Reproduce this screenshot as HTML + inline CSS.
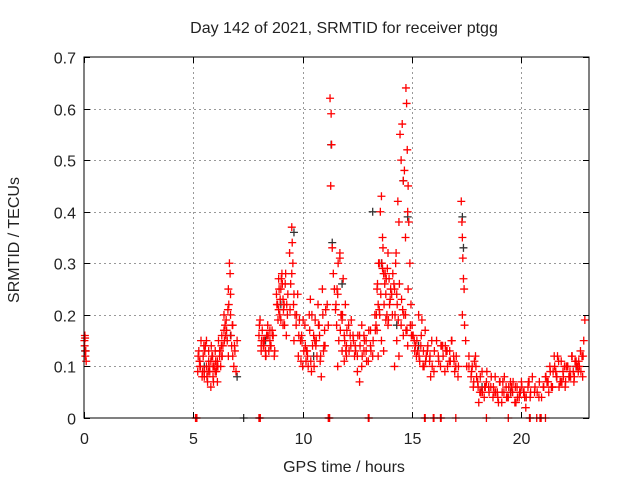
<!DOCTYPE html>
<html><head><meta charset="utf-8"><style>
body{margin:0;background:#fff;width:640px;height:480px;overflow:hidden}
svg text{font-family:"Liberation Sans",sans-serif;font-size:16px;fill:#222}
</style></head><body>
<svg width="640" height="480">
<g id="grid"></g>
<g id="marks"></g>
<rect x="84" y="57" width="505" height="361" fill="none" stroke="#000" stroke-width="1"/>
<g id="ticks"></g>
<text x="344" y="33" text-anchor="middle">Day 142 of 2021, SRMTID for receiver ptgg</text>
<text x="344" y="472" text-anchor="middle">GPS time / hours</text>
<text transform="translate(19,240) rotate(-90)" text-anchor="middle">SRMTID / TECUs</text>
</svg>
<script>
const xTicks=[0,5,10,15,20];
const yTicks=[0,0.1,0.2,0.3,0.4,0.5,0.6,0.7];
const yLabels=["0","0.1","0.2","0.3","0.4","0.5","0.6","0.7"];
const redT=[0.02,0.03,0.05,0.06,0.08,0.1,0.04,
5.2,5.25,5.3,5.35,5.4,5.45,5.5,5.55,5.6,5.65,5.7,5.75,5.8,5.85,5.9,5.95,6.0,6.05,6.1,6.15,6.2,6.25,6.3,6.35,6.4,6.45,5.3,5.5,5.7,5.9,6.1,6.3,5.6,5.8,6.0,6.2,6.4,
6.5,6.55,6.6,6.62,6.65,6.68,6.7,6.72,6.75,6.8,6.85,6.9,6.95,7.0,6.6,6.8,
8.0,8.05,8.1,8.15,8.2,8.25,8.3,8.35,8.4,8.45,8.5,8.55,8.6,8.65,8.7,8.1,8.3,8.5,8.2,8.4,
8.8,8.85,8.9,8.95,9.0,9.05,9.1,9.15,9.2,9.25,9.3,8.9,9.1,9.0,
9.4,9.45,9.5,9.52,9.55,9.58,9.6,9.65,9.7,9.5,9.6,
9.8,9.9,10.0,10.1,10.2,10.3,10.4,10.5,10.6,10.7,10.8,10.9,11.0,9.85,10.05,10.25,10.45,10.65,10.85,11.05,9.95,10.15,10.35,10.55,10.75,10.95,
11.25,11.3,11.32,11.28,11.35,11.4,11.45,11.5,
11.55,11.6,11.65,11.7,11.75,11.8,11.85,11.9,11.95,12.0,12.1,12.2,12.3,11.6,11.8,12.0,11.7,11.9,
12.4,12.5,12.6,12.7,12.8,12.9,13.0,13.1,13.2,12.5,12.7,12.9,13.1,12.6,12.8,
13.3,13.35,13.4,13.45,13.5,13.55,13.6,13.65,13.7,13.75,13.8,13.85,13.9,13.95,14.0,13.4,13.6,13.8,13.5,13.7,13.9,13.45,13.65,
14.1,14.2,14.25,14.3,14.35,14.4,14.45,14.5,14.55,14.6,14.65,14.7,14.72,14.75,14.78,14.8,14.82,14.85,14.9,14.95,14.3,14.5,14.7,14.4,14.6,14.8,14.2,
15.0,15.1,15.2,15.3,15.4,15.5,15.6,15.7,15.8,15.9,16.0,15.05,15.25,15.45,15.65,15.85,15.15,15.35,15.55,
16.2,16.3,16.4,16.5,16.6,16.7,16.8,16.9,17.0,17.1,16.35,16.55,16.75,16.95,
17.25,17.28,17.3,17.32,17.35,17.38,17.3,17.4,17.45,
17.6,17.7,17.8,17.9,18.0,18.1,18.2,18.3,18.4,18.5,17.75,17.95,18.15,18.35,17.85,18.05,
18.6,18.7,18.8,18.9,19.0,19.1,19.2,19.3,19.4,19.5,19.6,19.7,19.8,19.9,20.0,20.1,20.2,20.3,20.4,20.5,18.75,18.95,19.15,19.35,19.55,19.75,19.95,20.15,20.35,
20.6,20.8,21.0,21.1,21.2,21.3,21.4,21.5,21.6,21.7,21.8,21.9,22.0,22.1,22.2,22.3,22.4,22.5,22.6,22.7,22.8,22.9,21.25,21.45,21.65,21.85,22.05,22.25,22.45,22.65,22.85,22.9];
const redV=[0.15,0.14,0.155,0.12,0.13,0.11,0.16,
0.09,0.13,0.1,0.15,0.08,0.12,0.09,0.14,0.1,0.07,0.11,0.09,0.06,0.12,0.08,0.1,0.13,0.09,0.11,0.15,0.12,0.1,0.16,0.14,0.2,0.18,0.11,0.08,0.13,0.1,0.07,0.12,0.15,0.11,0.09,0.13,0.17,
0.19,0.15,0.25,0.22,0.3,0.28,0.2,0.16,0.14,0.12,0.1,0.13,0.09,0.15,0.12,0.18,
0.16,0.19,0.13,0.17,0.14,0.15,0.12,0.16,0.18,0.13,0.15,0.14,0.17,0.16,0.12,0.14,0.13,0.17,0.15,0.16,
0.24,0.22,0.27,0.2,0.25,0.28,0.18,0.22,0.26,0.16,0.2,0.21,0.23,0.19,
0.32,0.26,0.37,0.34,0.3,0.22,0.24,0.2,0.18,0.28,0.15,
0.12,0.15,0.1,0.18,0.13,0.2,0.09,0.16,0.14,0.22,0.11,0.25,0.17,0.19,0.13,0.1,0.14,0.12,0.08,0.21,0.16,0.11,0.23,0.15,0.18,0.13,
0.62,0.59,0.53,0.45,0.33,0.28,0.25,0.21,
0.18,0.24,0.15,0.32,0.2,0.13,0.27,0.16,0.22,0.12,0.18,0.14,0.16,0.1,0.19,0.14,0.31,0.11,
0.14,0.12,0.16,0.1,0.13,0.15,0.11,0.17,0.12,0.09,0.18,0.13,0.14,0.07,0.16,
0.2,0.18,0.25,0.22,0.3,0.4,0.43,0.35,0.28,0.26,0.24,0.2,0.32,0.27,0.23,0.17,0.15,0.19,0.21,0.13,0.18,0.12,0.29,
0.2,0.25,0.3,0.24,0.42,0.38,0.55,0.5,0.57,0.46,0.48,0.35,0.64,0.61,0.52,0.4,0.45,0.38,0.3,0.22,0.15,0.18,0.2,0.12,0.16,0.14,0.1,
0.18,0.15,0.12,0.2,0.14,0.1,0.17,0.13,0.11,0.15,0.09,0.16,0.13,0.19,0.12,0.08,0.14,0.11,0.1,
0.12,0.1,0.14,0.09,0.13,0.11,0.15,0.12,0.1,0.08,0.14,0.13,0.11,0.09,
0.42,0.38,0.35,0.31,0.27,0.25,0.2,0.18,0.15,
0.1,0.08,0.06,0.12,0.07,0.05,0.09,0.04,0.07,0.06,0.1,0.08,0.05,0.06,0.11,0.03,
0.06,0.04,0.08,0.05,0.07,0.03,0.05,0.06,0.04,0.07,0.05,0.03,0.06,0.04,0.07,0.05,0.02,0.06,0.04,0.08,0.05,0.03,0.07,0.04,0.06,0.03,0.05,0.04,0.07,
0.05,0.04,0.06,0.08,0.07,0.1,0.06,0.12,0.08,0.11,0.07,0.09,0.06,0.1,0.08,0.12,0.07,0.11,0.09,0.13,0.08,0.19,0.05,0.09,0.12,0.07,0.1,0.08,0.11,0.1,0.15];
const dense2T=[5.22,5.32,5.42,5.52,5.62,5.72,5.82,5.92,6.02,6.12,6.22,6.32,6.42,6.52,6.58,5.28,5.48,5.68,5.88,6.08,6.28,6.48,6.7,6.78,6.88,
8.02,8.12,8.22,8.32,8.42,8.52,8.62,8.72,8.82,8.92,9.02,9.12,9.22,9.32,9.42,8.87,8.97,9.07,9.17,9.27,
9.72,9.82,9.92,10.02,10.12,10.22,10.32,10.42,10.52,10.62,10.72,10.82,10.92,11.02,11.12,9.77,9.97,10.17,10.37,10.57,10.77,10.97,11.17,
11.52,11.62,11.72,11.82,11.92,12.02,12.12,12.22,12.32,12.42,12.52,12.62,12.72,12.82,12.92,13.02,13.12,13.22,11.57,11.77,11.97,12.17,12.37,
13.32,13.42,13.52,13.62,13.72,13.82,13.92,14.02,14.12,14.22,14.32,14.42,14.52,14.62,14.72,14.82,14.92,13.37,13.57,13.77,13.97,14.17,14.37,14.57,14.77,14.97,13.47,13.67,13.87,14.07,14.27,
15.02,15.12,15.22,15.32,15.42,15.52,15.62,15.72,15.82,15.92,16.02,16.12,16.22,16.32,16.42,16.52,16.62,16.72,16.82,16.92,17.02,17.12,17.5,17.6,
17.72,17.82,17.92,18.02,18.12,18.22,18.32,18.42,18.52,18.62,18.72,18.82,18.92,19.02,19.12,19.22,19.32,19.42,19.52,19.62,19.72,19.82,19.92,20.02,20.12,20.22,20.32,20.42,
20.62,20.72,20.82,20.92,21.02,21.12,21.22,21.32,21.42,21.52,21.62,21.72,21.82,21.92,22.02,22.12,22.22,22.32,22.42,22.52,22.62,22.72,22.82,21.17,21.37,21.57,21.77,21.97,22.17,22.37,22.57,22.77,
5.1,5.13,5.16,8.0,8.03,8.06,11.17,11.2,11.23,13.0,13.03,15.57,15.6,15.97,16.0,16.3,16.33,17.0,18.4,19.4,20.37,20.4,20.7,20.85,20.9,21.1];
const dense2V=[0.12,0.1,0.09,0.13,0.08,0.1,0.14,0.07,0.11,0.1,0.13,0.12,0.15,0.17,0.21,0.11,0.14,0.09,0.12,0.1,0.14,0.16,0.24,0.18,0.14,
0.18,0.15,0.14,0.12,0.16,0.14,0.16,0.13,0.22,0.25,0.27,0.21,0.28,0.24,0.21,0.19,0.23,0.26,0.18,0.22,
0.2,0.16,0.11,0.19,0.14,0.12,0.17,0.2,0.1,0.15,0.18,0.12,0.2,0.14,0.22,0.24,0.15,0.13,0.11,0.19,0.16,0.14,0.18,
0.22,0.3,0.17,0.2,0.15,0.17,0.13,0.19,0.15,0.13,0.16,0.14,0.12,0.15,0.11,0.17,0.13,0.15,0.25,0.2,0.13,0.16,0.12,
0.17,0.26,0.2,0.3,0.22,0.27,0.19,0.25,0.28,0.2,0.22,0.26,0.23,0.2,0.17,0.25,0.18,0.2,0.24,0.28,0.22,0.26,0.19,0.21,0.17,0.16,0.3,0.33,0.29,0.24,0.32,
0.16,0.13,0.15,0.12,0.16,0.13,0.11,0.14,0.12,0.1,0.13,0.15,0.11,0.14,0.12,0.14,0.1,0.13,0.15,0.11,0.12,0.1,0.1,0.12,
0.09,0.07,0.1,0.06,0.08,0.05,0.06,0.09,0.05,0.08,0.06,0.05,0.04,0.07,0.05,0.08,0.04,0.06,0.05,0.07,0.06,0.04,0.05,0.06,0.05,0.04,0.07,0.05,
0.06,0.05,0.07,0.04,0.06,0.08,0.07,0.09,0.06,0.1,0.08,0.06,0.11,0.08,0.07,0.1,0.09,0.12,0.08,0.1,0.11,0.09,0.12,0.07,0.06,0.09,0.07,0.1,0.08,0.09,0.1,0.12,
0,0,0,0,0,0,0,0,0,0,0,0,0,0,0,0,0,0,0,0,0,0,0,0,0,0];
const blackT=[0.05,5.5,6.7,7.0,8.3,9.0,9.6,10.5,11.3,11.35,11.8,13.2,13.6,14.3,14.6,14.8,15.3,17.3,17.35,18.2,19.5,22.5,7.3];
const blackV=[0.13,0.1,0.16,0.08,0.15,0.22,0.36,0.12,0.53,0.34,0.26,0.4,0.3,0.18,0.46,0.39,0.14,0.39,0.33,0.06,0.05,0.1,0];
const X=t=>84+t*(505/23.09), Y=v=>418-v*(361/0.7);
const NS="http://www.w3.org/2000/svg";
const g=document.getElementById('grid'),tk=document.getElementById('ticks'),mk=document.getElementById('marks');
function ln(p,x1,y1,x2,y2,c,d){const l=document.createElementNS(NS,'line');l.setAttribute('x1',x1);l.setAttribute('y1',y1);l.setAttribute('x2',x2);l.setAttribute('y2',y2);l.setAttribute('stroke',c);if(d)l.setAttribute('stroke-dasharray',d);p.appendChild(l);return l;}
function tx(x,y,s,a){const t=document.createElementNS(NS,'text');t.setAttribute('x',x);t.setAttribute('y',y);t.setAttribute('text-anchor',a);t.textContent=s;tk.appendChild(t);return t;}
yTicks.forEach((v,i)=>{const y=Math.round(Y(v))+0.5;
if(i>0&&i<yTicks.length-1){const gl=ln(g,84,y,589,y,'#999','2,3');

}
ln(tk,84,y,90,y,'#000');ln(tk,589,y,583,y,'#000');
const t=tx(76,y+6,yLabels[i],'end');

});
xTicks.forEach((v,i)=>{const x=Math.round(X(v))+0.5;
if(i>0){const gl=ln(g,x,57,x,418,'#999','2,3');

}
ln(tk,x,418,x,412,'#000');ln(tk,x,57,x,63,'#000');
const t=tx(x,444,String(v),'middle');

});
function plus(t,v,c,name){const x=X(t),y=Y(v);const p=document.createElementNS(NS,'path');
p.setAttribute('d',`M${x-4} ${y}H${x+4}M${x} ${y-4}V${y+4}`);p.setAttribute('stroke',c);p.setAttribute('stroke-width','1.3');p.setAttribute('fill','none');


mk.appendChild(p);}
blackT.forEach((t,i)=>plus(t,blackV[i],'#333','black-point'));
redT.forEach((t,i)=>plus(t,redV[i],'#f00','red-point'));
dense2T.forEach((t,i)=>plus(t,dense2V[i],'#f00','red-point'));
</script>
</body></html>
